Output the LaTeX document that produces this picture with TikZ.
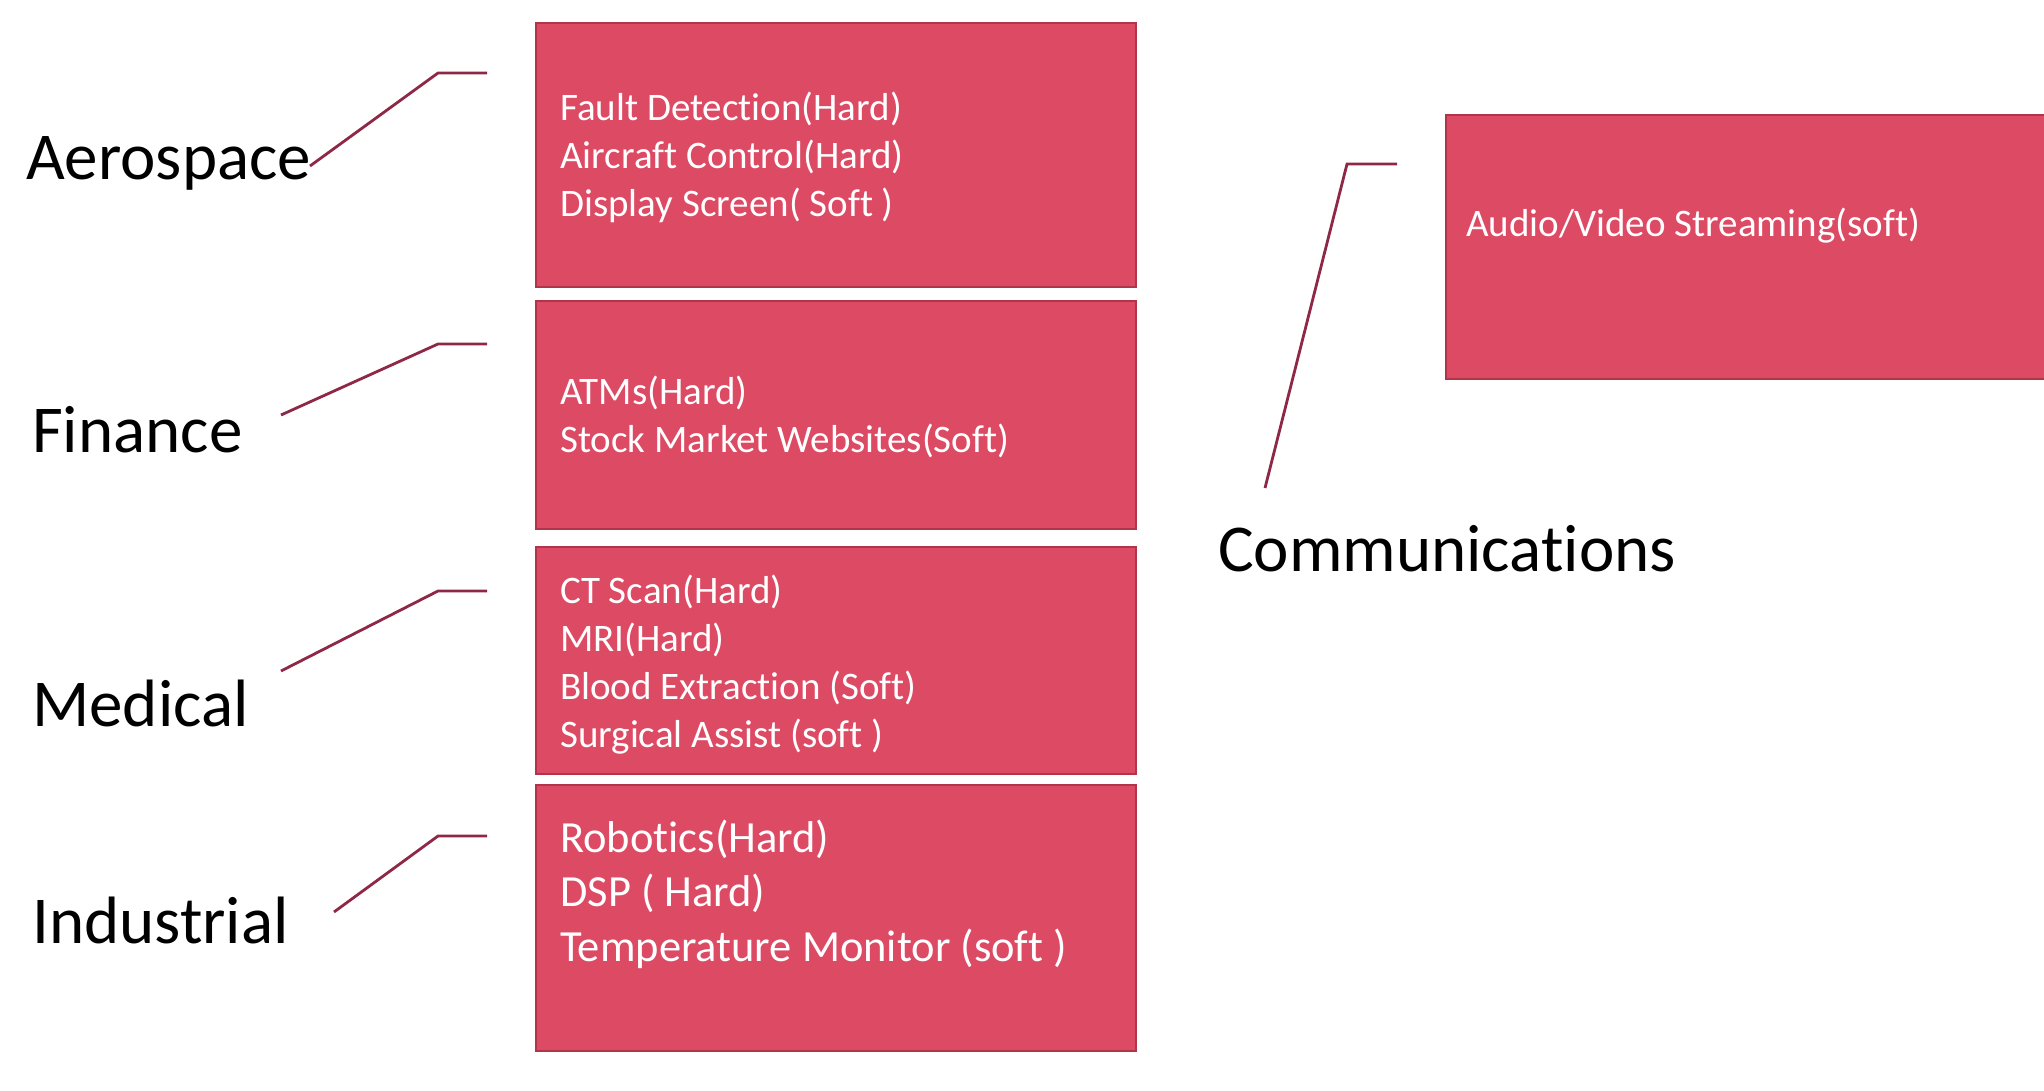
\documentclass[tikz,border=0pt]{standalone}
\usepackage{fontspec}
\setmainfont{Carlito}[Ligatures=CommonOff]
\definecolor{boxfill}{RGB}{220,74,100}
\definecolor{boxedge}{RGB}{176,52,74}
\definecolor{leadcol}{RGB}{142,40,70}
\begin{document}
\begin{tikzpicture}[x=1pt,y=-1pt,
  appbox/.style={draw=boxedge, fill=boxfill, line width=1.5pt, inner sep=0pt, outer sep=0pt, anchor=north west},
  applist/.style={text=white, anchor=base west, inner sep=0pt, font=\fontsize{39}{48}\selectfont},
  biglist/.style={applist, font=\fontsize{44.5}{54.5}\selectfont},
  field/.style={text=black, anchor=base west, inner sep=0pt, font=\fontsize{67}{80}\selectfont},
  leader/.style={draw=leadcol, line width=2.8pt, line join=miter}]
\useasboundingbox (0,0) rectangle (2044,1090);
\fill[white] (0,0) rectangle (2044,1090);

% application boxes
\node[appbox, minimum width=600pt, minimum height=264pt] (aerobox) at (536,23) {};
\node[appbox, minimum width=600pt, minimum height=228pt] (finbox)  at (536,301) {};
\node[appbox, minimum width=600pt, minimum height=227pt] (medbox)  at (536,547) {};
\node[appbox, minimum width=600pt, minimum height=266pt] (indbox)  at (536,785) {};
\node[appbox, minimum width=600pt, minimum height=264pt] (combox)  at (1446,115) {};

% box contents
\node[applist] (aerotext) at (560,120) {\begin{tabular}[t]{@{}l@{}}Fault Detection(Hard)\\Aircraft Control(Hard)\\Display Screen( Soft )\end{tabular}};
\node[applist] (fintext) at (560,404) {\begin{tabular}[t]{@{}l@{}}ATMs(Hard)\\Stock Market Websites(Soft)\end{tabular}};
\node[applist] (medtext) at (560,603) {\begin{tabular}[t]{@{}l@{}}CT Scan(Hard)\\MRI(Hard)\\Blood Extraction (Soft)\\Surgical Assist (soft )\end{tabular}};
\node[biglist] (indtext) at (560,852) {\begin{tabular}[t]{@{}l@{}}Robotics(Hard)\\DSP ( Hard)\\Temperature Monitor (soft )\end{tabular}};
\node[applist] (comtext) at (1466,236) {Audio/Video Streaming(soft)};

% field labels
\node[field] (aero) at (26,179) {Aerospace};
\node[field] (fin)  at (32,452) {Finance};
\node[field] (med)  at (32,726) {Medical};
\node[field] (ind)  at (32,943) {Industrial};
\node[field] (com)  at (1218,571) {Communications};

% leader lines
\coordinate (aeroTail) at (310,166);  \coordinate (aeroKnee) at (438,73);  \coordinate (aeroTip) at (487,73);
\coordinate (finTail)  at (281,415);  \coordinate (finKnee)  at (438,344); \coordinate (finTip)  at (487,344);
\coordinate (medTail)  at (281,671);  \coordinate (medKnee)  at (438,591); \coordinate (medTip)  at (487,591);
\coordinate (indTail)  at (334,912);  \coordinate (indKnee)  at (438,836); \coordinate (indTip)  at (487,836);
\coordinate (comTail)  at (1265,488); \coordinate (comKnee)  at (1347,164); \coordinate (comTip) at (1397,164);

\draw[leader] (aeroTail) -- (aeroKnee) -- (aeroTip);
\draw[leader] (finTail) -- (finKnee) -- (finTip);
\draw[leader] (medTail) -- (medKnee) -- (medTip);
\draw[leader] (indTail) -- (indKnee) -- (indTip);
\draw[leader] (comTail) -- (comKnee) -- (comTip);
\end{tikzpicture}
\end{document}
